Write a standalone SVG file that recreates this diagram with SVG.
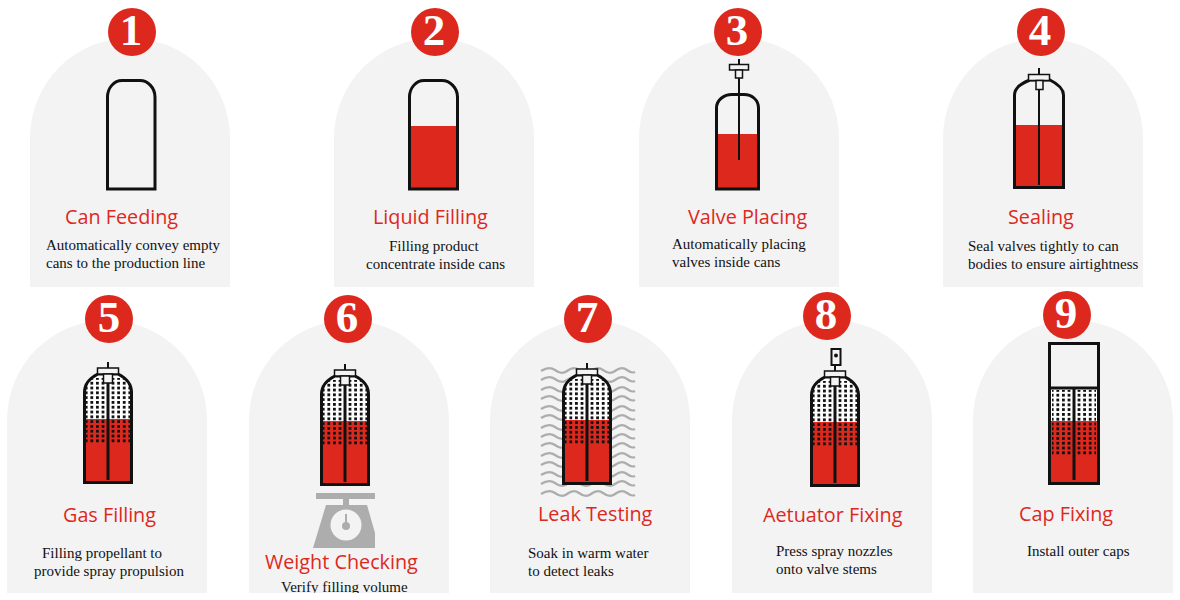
<svg xmlns="http://www.w3.org/2000/svg" width="1180" height="600" viewBox="0 0 1180 600">
<style>
.card{fill:#f3f3f3}
.badge{fill:#dd281e}
.num{font:bold 45px "Liberation Serif",serif;fill:#fff;text-anchor:middle}
.title{font:19.8px "Open Sans",sans-serif;fill:#dd281e}
.desc{font:15px "Liberation Serif",serif;fill:#111}
.line{fill:none;stroke:#111;stroke-width:3}
.thin{fill:none;stroke:#111;stroke-width:2}
.liquid{fill:#dd281e}
.part{fill:#f3f3f3;stroke:#111;stroke-width:1.5}
.wave{fill:none;stroke:#adadad;stroke-width:2.2}
.scale{fill:#adadad}
</style>
<defs>
<pattern id="dots" width="5.6" height="4.8" patternUnits="userSpaceOnUse" x="3.6" y="-1.4">
<rect width="2.8" height="2.8" fill="#111"/>
</pattern>
<clipPath id="bodyClip"><path d="M-24,0V-92C-24,-101 -16,-107 -10,-110H10C16,-107 24,-101 24,-92V0Z"/></clipPath>
<clipPath id="pageEdge"><rect x="0" y="0" width="1180" height="593"/></clipPath>
<g id="dotField">
<rect x="3" y="-106" width="19" height="65" fill="url(#dots)"/>
<rect x="3" y="-106" width="19" height="65" fill="url(#dots)" transform="scale(-1,1)"/>
</g>
<g id="gasCan">
<path d="M-24,0V-92C-24,-101 -16,-107 -10,-110H10C16,-107 24,-101 24,-92V0Z" fill="#fff"/>
<rect x="-24" y="-65" width="48" height="65" class="liquid"/>
<use href="#dotField" clip-path="url(#bodyClip)"/>
<path d="M-23.500,-1.500V-92C-23.500,-101 -16,-107 -10,-110H10C16,-107 23.500,-101 23.500,-92V-1.500Z" class="line"/>
<path d="M0,-101V-4" class="line"/>
<path d="M0,-122V-116" class="thin"/>
<rect x="-10.500" y="-116" width="21" height="6" class="part"/>
<rect x="-4.500" y="-110" width="9" height="9" class="part"/>
</g>
<path id="wave" d="M0,0c6,-4 10,-4 14,-1s8,4 12,1s8,-4 12,-1s8,4 12,1s8,-4 12,-1s8,4 12,1s8,-4 12,-1s6,3 8,2" class="wave"/>
</defs>

<g id="step1">
<path class="card" d="M30,287V138A100,100 0 0 1 230,138V287Z"/>
<circle class="badge" cx="132" cy="32" r="24"/><text class="num" x="131" y="45">1</text>
<path class="line" d="M107.500,189V97C107.500,88 114,80.500 122,80.500H140C148,80.500 155,88 155,97V189Z"/>
<text class="title" x="65" y="224">Can Feeding</text>
<text class="desc" x="46" y="250">Automatically convey empty</text>
<text class="desc" x="46" y="268">cans to the production line</text>
</g>

<g id="step2">
<path class="card" d="M334,287V138A100,100 0 0 1 534,138V287Z"/>
<circle class="badge" cx="435" cy="32" r="24"/><text class="num" x="434" y="45">2</text>
<rect class="liquid" x="409" y="126" width="49" height="63"/>
<path class="line" d="M409.500,189V97C409.500,88 416,80.500 424,80.500H442C450,80.500 457.500,88 457.500,97V189Z"/>
<text class="title" x="373" y="224">Liquid Filling</text>
<text class="desc" x="389" y="251">Filling product</text>
<text class="desc" x="366" y="269">concentrate inside cans</text>
</g>

<g id="step3">
<path class="card" d="M639,287V138A100,100 0 0 1 839,138V287Z"/>
<circle class="badge" cx="738" cy="32" r="24"/><text class="num" x="737" y="45">3</text>
<rect class="liquid" x="717" y="134" width="41" height="56"/>
<path class="line" d="M716.500,189V108C716.500,100 724,94.500 732,94.500H744C752,94.500 758.500,100 758.500,108V189Z"/>
<path class="thin" d="M739,59V160"/>
<rect class="part" x="729.500" y="64.500" width="19" height="5.500"/>
<rect class="part" x="735.500" y="70" width="7" height="8"/>
<text class="title" x="688" y="224">Valve Placing</text>
<text class="desc" x="672" y="249">Automatically placing</text>
<text class="desc" x="672" y="267">valves inside cans</text>
</g>

<g id="step4">
<path class="card" d="M943,287V138A100,100 0 0 1 1143,138V287Z"/>
<circle class="badge" cx="1041" cy="32" r="24"/><text class="num" x="1040" y="45">4</text>
<rect class="liquid" x="1015" y="125" width="48" height="63"/>
<path class="line" d="M1014.500,187.500V95C1014.500,88 1022,83 1030,80H1050C1056,83 1063.500,88 1063.500,95V187.500Z"/>
<path class="thin" d="M1039,68V185"/>
<rect class="part" x="1028.500" y="74.500" width="21" height="6"/>
<rect class="part" x="1036" y="80.500" width="7" height="9"/>
<text class="title" x="1008" y="224">Sealing</text>
<text class="desc" x="968" y="251">Seal valves tightly to can</text>
<text class="desc" x="968" y="269">bodies to ensure airtightness</text>
</g>

<g id="step5">
<path class="card" d="M7,593V420A100,100 0 0 1 207,420V593Z"/>
<circle class="badge" cx="109" cy="319" r="24"/><text class="num" x="109" y="332">5</text>
<use href="#gasCan" x="108" y="484"/>
<text class="title" x="63" y="522">Gas Filling</text>
<text class="desc" x="42" y="558">Filling propellant to</text>
<text class="desc" x="34" y="576">provide spray propulsion</text>
</g>

<g id="step6">
<path class="card" d="M249,593V420A100,100 0 0 1 449,420V593Z"/>
<circle class="badge" cx="348" cy="319" r="24"/><text class="num" x="347" y="332">6</text>
<use href="#gasCan" x="345" y="486"/>
<g id="scale">
<rect class="scale" x="316" y="493" width="59" height="6"/>
<rect class="scale" x="343" y="499" width="6" height="7"/>
<polygon class="scale" points="326,505 367,505 375,533 375,548 313,548"/>
<circle cx="346" cy="525" r="15.500" fill="#f3f3f3"/>
<circle class="scale" cx="346" cy="526" r="4"/>
<rect class="scale" x="345" y="514" width="2" height="10"/>
</g>
<text class="title" x="265" y="569">Weight Checking</text>
<text class="desc" x="281" y="592" clip-path="url(#pageEdge)">Verify filling volume</text>
</g>

<g id="step7">
<path class="card" d="M490,593V420A100,100 0 0 1 690,420V593Z"/>
<circle class="badge" cx="588" cy="319" r="24"/><text class="num" x="587" y="332">7</text>
<g id="water">
<use href="#wave" x="541" y="371"/><use href="#wave" x="541" y="380"/><use href="#wave" x="541" y="390"/><use href="#wave" x="541" y="399"/><use href="#wave" x="541" y="409"/><use href="#wave" x="541" y="418"/><use href="#wave" x="541" y="428"/><use href="#wave" x="541" y="437"/><use href="#wave" x="541" y="446"/><use href="#wave" x="541" y="456"/><use href="#wave" x="541" y="465"/><use href="#wave" x="541" y="475"/><use href="#wave" x="541" y="484"/><use href="#wave" x="541" y="494"/>
</g>
<use href="#gasCan" x="587" y="485"/>
<text class="title" x="538" y="521">Leak Testing</text>
<text class="desc" x="528" y="558">Soak in warm water</text>
<text class="desc" x="528" y="576">to detect leaks</text>
</g>

<g id="step8">
<path class="card" d="M732,593V420A100,100 0 0 1 932,420V593Z"/>
<circle class="badge" cx="827" cy="316" r="24"/><text class="num" x="826" y="329">8</text>
<use href="#gasCan" x="835" y="487"/>
<rect x="831.500" y="349" width="9" height="16" fill="#f3f3f3" stroke="#111" stroke-width="2"/>
<circle cx="836" cy="355.500" r="2" fill="#111"/>
<text class="title" x="763" y="522">Aetuator Fixing</text>
<text class="desc" x="776" y="556">Press spray nozzles</text>
<text class="desc" x="776" y="574">onto valve stems</text>
</g>

<g id="step9">
<path class="card" d="M973,593V420A100,100 0 0 1 1173,420V593Z"/>
<circle class="badge" cx="1067" cy="315" r="24"/><text class="num" x="1066" y="328">9</text>
<rect x="1050" y="388" width="48" height="33" fill="#fff"/>
<rect class="liquid" x="1050" y="421" width="48" height="63"/>
<use href="#dotField" x="1074" y="496" clip-path="none"/>
<rect class="line" x="1049.500" y="343.500" width="49" height="44.500"/>
<path class="line" d="M1049.500,388V483.500H1098.500V388"/>
<path class="line" d="M1074,388V480"/>
<text class="title" x="1019" y="521">Cap Fixing</text>
<text class="desc" x="1027" y="556">Install outer caps</text>
</g>
</svg>
